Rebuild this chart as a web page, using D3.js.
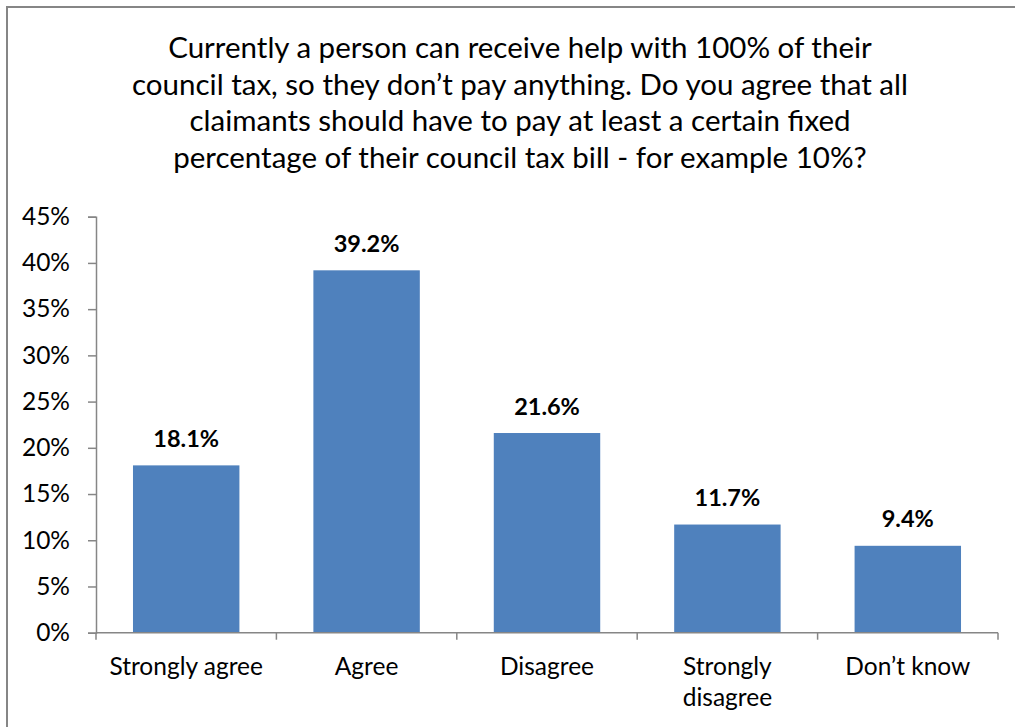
<!DOCTYPE html>
<html>
<head>
<meta charset="utf-8">
<script src="https://cdn.jsdelivr.net/npm/d3@7"></script>
<style>
  html, body { margin: 0; padding: 0; background: #fff; }
  svg { display: block; }
  text { font-family: Lato, "Open Sans", sans-serif; fill: #000; }
</style>
</head>
<body>
<svg id="chart" width="1015" height="727"></svg>
<script>
const titleLines = [
  "Currently a person can receive help with 100% of their",
  "council tax, so they don\u2019t pay anything. Do you agree that all",
  "claimants should have to pay at least a certain fixed",
  "percentage of their council tax bill - for example 10%?"
];
const categories = [["Strongly agree"], ["Agree"], ["Disagree"], ["Strongly", "disagree"], ["Don\u2019t know"]];
const values = [18.1, 39.2, 21.6, 11.7, 9.4];
const yTicks = [0, 5, 10, 15, 20, 25, 30, 35, 40, 45];

const svg = d3.select("#chart");
const W = 1015, H = 727;
const margin = { left: 96, right: 17, top: 216.7, bottom: 94.3 };
const x0 = margin.left, x1 = W - margin.right;
const y0 = H - margin.bottom, y1 = margin.top;

// outer chart frame
svg.append("rect")
  .attr("x", 7).attr("y", 7)
  .attr("width", W + 20).attr("height", H + 20)
  .attr("fill", "none").attr("stroke", "#868686").attr("stroke-width", 2);

// title
const title = svg.append("text")
  .attr("text-anchor", "middle")
  .style("font-size", "29.5px");
titleLines.forEach((l, i) => {
  title.append("tspan").attr("x", 520).attr("y", 58 + i * 36.7).text(l);
});

const x = d3.scaleBand()
  .domain(categories.map((c, i) => i))
  .range([x0, x1])
  .paddingInner(0.41)
  .paddingOuter(0.205);

const y = d3.scaleLinear().domain([0, 45]).range([y0, y1]);

// bars
svg.append("g").selectAll("rect")
  .data(values)
  .join("rect")
  .attr("x", (d, i) => x(i))
  .attr("width", x.bandwidth())
  .attr("y", d => y(d))
  .attr("height", d => y(0) - y(d))
  .attr("fill", "#4F81BD");

// y axis
const yAxis = svg.append("g")
  .attr("transform", `translate(${x0},0)`)
  .call(d3.axisLeft(y).tickValues(yTicks).tickSize(8).tickPadding(18).tickFormat(d => d + "%"));
yAxis.attr("font-family", null).attr("font-size", null);
yAxis.select(".domain").attr("stroke", "#868686").attr("stroke-width", 1.5);
yAxis.selectAll(".tick line").attr("stroke", "#868686").attr("stroke-width", 1.5);
yAxis.selectAll(".tick text").style("font-size", "24.5px").attr("fill", "#000");

// x axis line and ticks
const xStep = (x1 - x0) / categories.length;
const xg = svg.append("g");
xg.append("line").attr("x1", x0).attr("x2", x1).attr("y1", y0).attr("y2", y0)
  .attr("stroke", "#868686").attr("stroke-width", 1.5);
xg.selectAll("line.tk")
  .data(d3.range(categories.length + 1))
  .join("line").attr("class", "tk")
  .attr("x1", i => x0 + i * xStep).attr("x2", i => x0 + i * xStep)
  .attr("y1", y0).attr("y2", y0 + 7)
  .attr("stroke", "#868686").attr("stroke-width", 1.5);

// category labels
xg.selectAll("text.cat")
  .data(categories)
  .join("text").attr("class", "cat")
  .attr("text-anchor", "middle")
  .style("font-size", "24.5px")
  .each(function (lines, i) {
    const t = d3.select(this);
    lines.forEach((l, j) => {
      t.append("tspan")
        .attr("x", x(i) + x.bandwidth() / 2)
        .attr("y", 675 + j * 31)
        .text(l);
    });
  });

// data labels
svg.append("g").selectAll("text")
  .data(values)
  .join("text")
  .attr("text-anchor", "middle")
  .attr("x", (d, i) => x(i) + x.bandwidth() / 2)
  .attr("y", d => y(d) - 18.5)
  .style("font-size", "23.5px")
  .style("font-weight", "bold")
  .text(d => d.toFixed(1) + "%");
</script>
</body>
</html>
